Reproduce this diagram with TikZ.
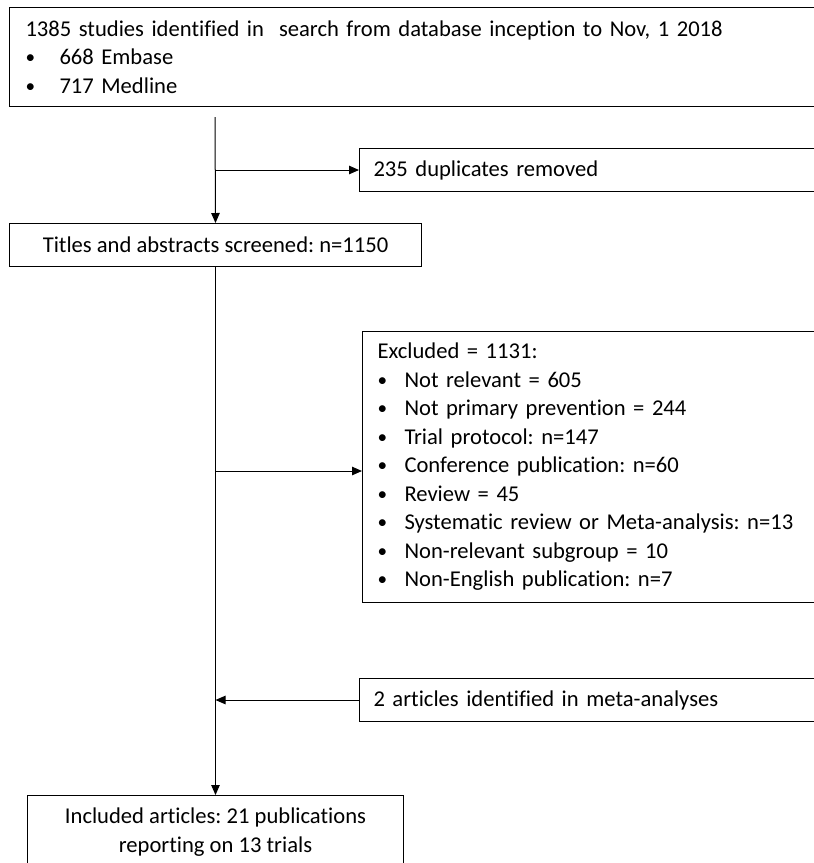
\documentclass[tikz,border=0pt]{standalone}
\usepackage{fontspec}
\setmainfont[Ligatures=NoCommon]{Carlito}
\usetikzlibrary{arrows.meta}
\frenchspacing
\newcommand{\blt}[1]{\makebox[#1][l]{\raisebox{0.05em}{\scalebox{0.85}{\textbullet}}}}
\begin{document}
\begin{tikzpicture}[x=1pt,y=-1pt,
  txt/.style={font=\fontsize{22.6}{28.5}\selectfont},
  box/.style={txt, draw, line width=1pt, anchor=north west, inner ysep=0pt},
  arr/.style={-{Triangle[length=10pt,width=8.5pt]}, line width=1pt}]
\useasboundingbox (0,0) rectangle (814,863);
\node[box, inner xsep=16pt, text width=798pt, minimum height=99pt, align=left] (search) at (9,7)
  {1385 studies identified in\ \ search from database inception to Nov, 1 2018\\
   \blt{34pt}668 Embase\\
   \blt{34pt}717 Medline};
\node[box, inner xsep=14pt, text width=472pt, minimum height=43pt, align=left] (dup) at (359,148)
  {235 duplicates removed};
\node[box, inner xsep=0pt, minimum width=412pt, minimum height=43pt, align=center] (titles) at (9,223)
  {Titles and abstracts screened: n=1150};
\node[box, inner xsep=15pt, text width=470pt, minimum height=271pt, align=left] (excl) at (362,331)
  {Excluded = 1131:\\
   \blt{27pt}Not relevant = 605\\
   \blt{27pt}Not primary prevention = 244\\
   \blt{27pt}Trial protocol: n=147\\
   \blt{27pt}Conference publication: n=60\\
   \blt{27pt}Review = 45\\
   \blt{27pt}Systematic review or Meta-analysis: n=13\\
   \blt{27pt}Non-relevant subgroup = 10\\
   \blt{27pt}Non-English publication: n=7};
\node[box, inner xsep=14pt, text width=472pt, minimum height=43pt, align=left] (art) at (359,678)
  {2 articles identified in meta-analyses};
\node[box, inner xsep=0pt, minimum width=376pt, minimum height=73pt, align=center] (incl) at (27,795)
  {Included articles: 21 publications\\reporting on 13 trials};
\coordinate (c1) at (215,117);
\coordinate (b1) at (215,170);
\coordinate (b2) at (215,471);
\draw[arr] (c1) -- (titles.north);
\draw[arr] (b1) -- (dup.west);
\draw[arr] (titles.south) -- (incl.north);
\draw[arr] (b2) -- (b2 -| excl.west);
\draw[arr] (art.west) -- (art.west -| incl.north);
\end{tikzpicture}
\end{document}
